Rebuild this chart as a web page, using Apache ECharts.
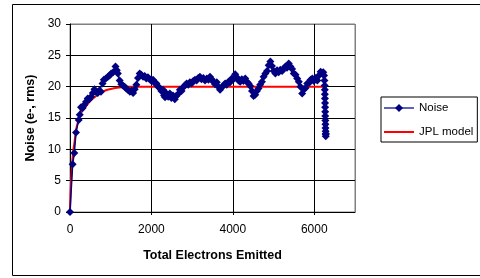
<!DOCTYPE html>
<html lang="en">
<head>
<meta charset="UTF-8">
<title>Noise vs Total Electrons Emitted</title>
<script src="https://cdn.jsdelivr.net/npm/echarts@6/dist/echarts.min.js"></script>
<style>
  html, body { margin: 0; padding: 0; background: #fff; }
  #main { width: 480px; height: 278px; }
</style>
</head>
<body>
<div id="main"></div>
<script>
var noiseX = [0, 65, 106, 148, 213, 240, 270, 310, 353, 395, 435, 475, 518, 560, 600, 640, 682, 720, 760, 800,
  830, 880, 930, 970, 1012, 1060, 1118, 1150, 1176, 1220, 1260, 1300, 1340, 1380, 1422, 1470, 1510, 1550, 1590, 1630,
  1670, 1711, 1750, 1795, 1835, 1875, 1915, 1958, 2000, 2040, 2080, 2123, 2165, 2205, 2245, 2287, 2310, 2335, 2370, 2410,
  2452, 2490, 2530, 2575, 2610, 2650, 2699, 2740, 2780, 2820, 2864, 2905, 2945, 2985, 3027, 3070, 3110, 3150, 3192, 3230,
  3275, 3316, 3360, 3400, 3439, 3480, 3520, 3563, 3605, 3645, 3686, 3725, 3770, 3810, 3850, 3890, 3933, 3975, 4015, 4057,
  4095, 4140, 4180, 4220, 4260, 4304, 4345, 4385, 4427, 4470, 4509, 4550, 4590, 4630, 4670, 4715, 4755, 4798, 4840, 4880,
  4921, 4960, 5003, 5045, 5085, 5126, 5165, 5210, 5250, 5290, 5330, 5373, 5415, 5455, 5496, 5540, 5580, 5620, 5660, 5703,
  5745, 5785, 5827, 5870, 5910, 5951, 5990, 6030, 6074, 6115, 6156, 6195, 6220, 6240, 6250, 6255, 6258, 6260, 6262, 6264,
  6266, 6268, 6270, 6272, 6274, 6276, 6278, 6280, 6282, 6283];
var noiseY = [0, 7.6, 9.4, 12.7, 14.7, 15.5, 16.7, 16.6, 17.1, 17.6, 18.1, 18.0, 18.4, 19.0, 19.6, 19.2, 19.0, 19.4, 19.2, 20.5,
  21.1, 21.3, 21.6, 21.8, 22.1, 22.3, 23.2, 22.6, 22.1, 21.0, 20.4, 20.2, 20.0, 19.7, 19.5, 19.2, 19.4, 19.0, 19.6, 20.3,
  21.4, 22.1, 21.9, 21.6, 21.7, 21.3, 21.5, 21.2, 20.9, 21.1, 20.6, 20.5, 20.0, 19.8, 19.3, 19.5, 18.6, 18.3, 18.9, 18.4,
  18.9, 18.2, 18.6, 18.0, 18.5, 18.8, 19.5, 19.3, 19.9, 20.2, 20.5, 20.3, 20.7, 20.5, 20.9, 21.1, 21.0, 21.4, 21.6, 21.2,
  21.4, 21.0, 21.3, 21.1, 21.6, 21.2, 20.8, 20.4, 20.7, 20.0, 19.5, 19.9, 20.2, 20.5, 20.3, 20.8, 20.7, 21.3, 21.2, 22.0,
  21.5, 21.0, 20.8, 21.2, 20.9, 21.3, 20.8, 20.5, 20.1, 19.3, 18.5, 18.7, 19.3, 19.7, 20.3, 20.8, 21.6, 22.1, 22.5, 23.4,
  24.0, 23.3, 22.5, 22.1, 22.6, 22.3, 22.7, 22.5, 22.9, 23.2, 23.0, 23.7, 23.2, 22.8, 22.1, 21.9, 21.3, 20.8, 20.0, 18.9,
  19.6, 19.8, 20.5, 20.6, 21.1, 21.3, 20.9, 21.4, 21.0, 21.8, 22.4, 22.1, 22.3, 21.8, 21.0, 20.2, 19.5, 18.8, 18.1, 17.4,
  16.7, 16.0, 15.3, 14.6, 14.0, 13.4, 12.9, 12.4, 12.1, 12.5];

// JPL model curve
var modelX = [0, 5, 10, 20, 32, 50, 65, 85, 106, 130, 148, 180, 230, 290, 353, 420, 477, 560, 642, 720,
  805, 920, 1052, 1200, 1383, 1600, 2000, 3000, 4000, 5000, 6000, 6300];
var modelY = [0, 1.5, 2.6, 4.0, 5.6, 7.3, 8.8, 10.0, 10.9, 12.2, 13.1, 14.0, 15.2, 16.0, 16.5, 17.1, 17.6, 18.1, 18.5, 18.9,
  19.2, 19.5, 19.7, 19.85, 20.0, 20.0, 20.0, 20.0, 20.0, 20.0, 20.0, 20.0];

var xTicks = [0, 2000, 4000, 6000];

function pairs(xs, ys) {
    var out = [];
    for (var i = 0; i < xs.length; i++) out.push([xs[i], ys[i]]);
    return out;
}

var chart = echarts.init(document.getElementById('main'), null, { renderer: 'canvas' });
var font = 'Liberation Sans, Arial, sans-serif';

chart.setOption({
    animation: false,
    backgroundColor: '#fff',
    textStyle: { fontFamily: font },
    graphic: [{
        type: 'rect',
        shape: { x: 12.5, y: 4.5, width: 480, height: 271 },
        style: { fill: null, stroke: '#000', lineWidth: 1 },
        z: 100
    }],
    grid: {
        left: 70, right: 125, top: 24, bottom: 66,
        show: true, borderColor: '#808080', borderWidth: 1, backgroundColor: '#fff'
    },
    legend: {
        orient: 'vertical',
        left: 381, top: 97,
        backgroundColor: '#fff',
        borderColor: '#000', borderWidth: 1,
        padding: [5, 4, 4, 2],
        itemWidth: 30, itemHeight: 10, itemGap: 12,
        textStyle: { fontSize: 11.5, color: '#000', fontFamily: font },
        data: [
            { name: 'Noise', lineStyle: { color: '#6060c0' } },
            { name: 'JPL model', itemStyle: { opacity: 0 } }
        ]
    },
    xAxis: {
        type: 'value',
        min: 0, max: 7000, interval: 2000,
        name: 'Total Electrons Emitted',
        nameLocation: 'middle',
        nameGap: 37,
        nameTextStyle: { fontSize: 12.5, fontWeight: 'bold', color: '#000' },
        axisLine: { show: true, onZero: false, lineStyle: { color: '#000', width: 1 } },
        axisTick: { show: true, length: 3, lineStyle: { color: '#000' } },
        axisLabel: {
            fontSize: 12, color: '#000', margin: 12, showMaxLabel: false,
            formatter: function (v) { return xTicks.indexOf(v) >= 0 ? String(v) : ''; }
        },
        splitLine: { show: true, lineStyle: { color: ['#000', '#000', '#000', '#000', '#808080'], width: 1 } }
    },
    yAxis: {
        type: 'value',
        min: 0, max: 30, interval: 5,
        name: 'Noise (e-, rms)',
        nameLocation: 'middle',
        nameGap: 30,
        nameTextStyle: { fontSize: 12.5, fontWeight: 'bold', color: '#000' },
        axisLine: { show: true, lineStyle: { color: '#000', width: 1 } },
        axisTick: { show: true, length: 4, lineStyle: { color: '#000' } },
        axisLabel: { fontSize: 12, color: '#000', margin: 9 },
        splitLine: { show: true, lineStyle: { color: ['#000', '#000', '#000', '#000', '#000', '#000', '#808080'], width: 1 } }
    },
    series: [
        {
            name: 'Noise',
            type: 'line',
            data: pairs(noiseX, noiseY),
            symbol: 'diamond',
            symbolSize: 8,
            showAllSymbol: true,
            lineStyle: { color: '#000080', width: 1.5 },
            itemStyle: { color: '#000080' },
            z: 3
        },
        {
            name: 'JPL model',
            type: 'line',
            data: pairs(modelX, modelY),
            smooth: 0.3,
            symbol: 'none',
            lineStyle: { color: '#ff0000', width: 2 },
            itemStyle: { color: '#ff0000' },
            z: 2
        }
    ]
});
</script>
</body>
</html>
